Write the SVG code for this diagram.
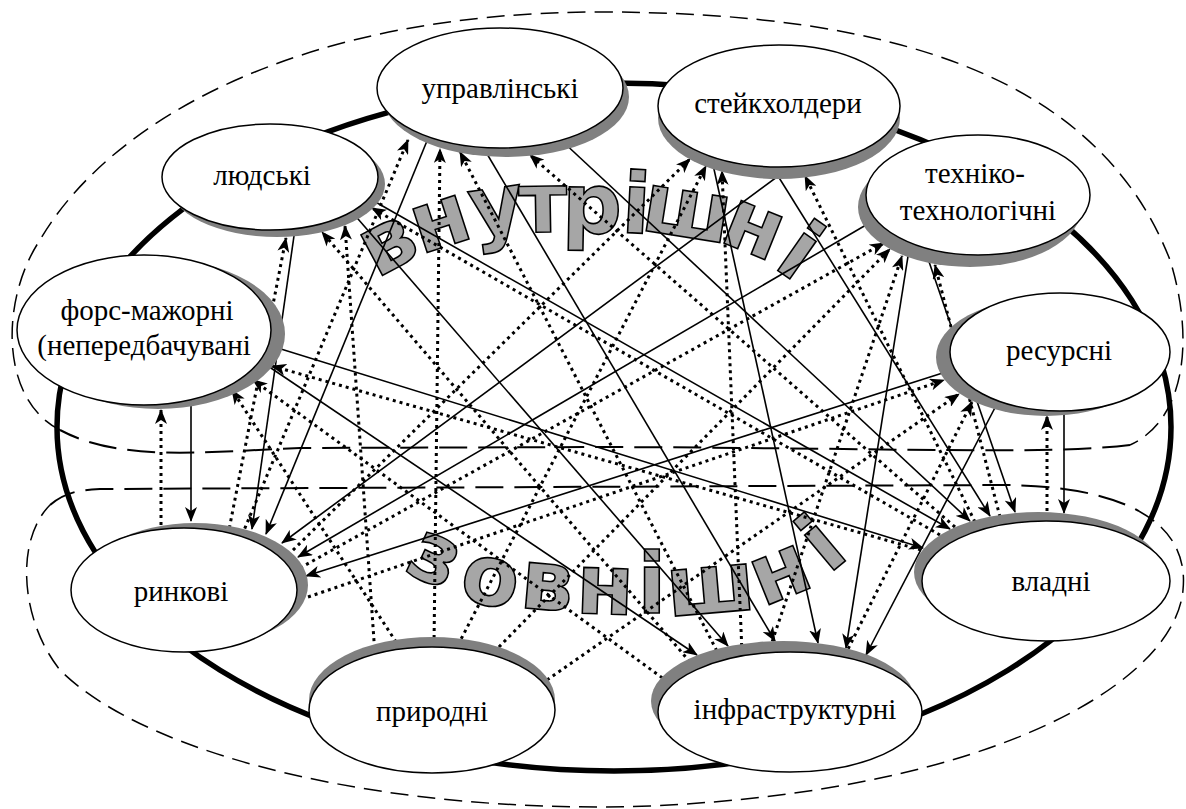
<svg xmlns="http://www.w3.org/2000/svg" width="1186" height="809" viewBox="0 0 1186 809">
<defs>
<marker id="ah" viewBox="0 0 15 12" refX="14" refY="6" markerWidth="15" markerHeight="12" markerUnits="userSpaceOnUse" orient="auto"><path d="M0,0 L15,6 L0,12 L4,6 z" fill="#000"/></marker>
<style>
.dash{fill:none;stroke:#000;stroke-width:1.5;stroke-dasharray:18 9}
.dash2{fill:none;stroke:#000;stroke-width:2;stroke-dasharray:28 11}
.ring{fill:none;stroke:#000;stroke-width:5.5}
.wa{font-family:"DejaVu Sans","Liberation Sans",sans-serif;font-weight:bold;font-size:84px;fill:#a6a6a6;stroke:#000;stroke-width:1.6;text-anchor:middle}
.s{stroke:#000;stroke-width:1.6;fill:none;marker-end:url(#ah)}
.d{stroke:#000;stroke-width:3;stroke-dasharray:3 4;fill:none;marker-end:url(#ah)}
.sh{fill:#808080}
.nd{fill:#fff;stroke:#000;stroke-width:1.5}
.lbl{font-family:"Liberation Serif","DejaVu Serif",serif;font-size:29px;fill:#000;text-anchor:middle}
</style>
</defs>
<rect width="1186" height="809" fill="#fff"/>
<g id="regions">
<path class="dash" d="M60,430 C0,400 0,300 40,240 C110,120 300,12 600,12 C900,12 1100,80 1170,260 C1195,340 1185,420 1130,445"/>
<path class="dash2" d="M1130,445 C1050,455 900,448 600,447 L300,448 C200,452 120,462 60,430"/>
<path class="dash2" d="M50,505 C65,492 80,490 100,489 L1000,485 C1060,485 1107.5,493.75 1139.1,511.25"/>
<path class="dash" d="M1139.1,511.25 C1170.75,528.75 1186.5,555 1183,590 C1175,680 1000,790 650,806 C400,815 150,760 60,670 C20,620 15,540 50,505"/>
<ellipse class="ring" cx="614" cy="427" rx="557" ry="344"/>
</g>
<g id="wordart-internal">
<text class="wa" transform="translate(389,246) rotate(-28)" y="23">в</text>
<text class="wa" transform="translate(441,224) rotate(-18)" y="23">н</text>
<text class="wa" transform="translate(497,211) rotate(-8)" y="23">у</text>
<text class="wa" transform="translate(543,209) rotate(-1)" y="23">т</text>
<text class="wa" transform="translate(592,210) rotate(1)" y="23">р</text>
<text class="wa" transform="translate(636,210) rotate(3)" y="23">і</text>
<text class="wa" transform="translate(687,214) rotate(9)" y="23">ш</text>
<text class="wa" transform="translate(753,230) rotate(22)" y="23">н</text>
<text class="wa" transform="translate(797,256) rotate(35)" y="23">і</text>
</g>
<g id="wordart-external">
<text class="wa" transform="translate(434,560) rotate(25)" y="23">з</text>
<text class="wa" transform="translate(490,582) rotate(12)" y="23">о</text>
<text class="wa" transform="translate(547,587) rotate(5)" y="23">в</text>
<text class="wa" transform="translate(605,591) rotate(2)" y="23">н</text>
<text class="wa" transform="translate(652,590) rotate(0)" y="23">і</text>
<text class="wa" transform="translate(711,590) rotate(-5)" y="23">ш</text>
<text class="wa" transform="translate(781,575) rotate(-22)" y="23">н</text>
<text class="wa" transform="translate(825,548) rotate(-40)" y="23">і</text>
</g>
<g id="connectors">
<line class="s" x1="191" y1="395" x2="191" y2="521"/>
<line class="s" x1="296" y1="222" x2="252" y2="529"/>
<line class="s" x1="429" y1="136" x2="266" y2="534"/>
<line class="s" x1="800" y1="160" x2="282" y2="543"/>
<line class="s" x1="866" y1="225" x2="298" y2="557"/>
<line class="s" x1="952" y1="370" x2="306" y2="576"/>
<line class="s" x1="262" y1="362" x2="697" y2="655"/>
<line class="s" x1="352" y1="212" x2="728" y2="646"/>
<line class="s" x1="480" y1="142" x2="775" y2="641"/>
<line class="s" x1="712" y1="160" x2="818" y2="643"/>
<line class="s" x1="909" y1="250" x2="846" y2="648"/>
<line class="s" x1="999" y1="400" x2="866" y2="655"/>
<line class="s" x1="268" y1="345" x2="923" y2="548"/>
<line class="s" x1="372" y1="200" x2="950" y2="529"/>
<line class="s" x1="561" y1="140" x2="970" y2="521"/>
<line class="s" x1="768" y1="160" x2="990" y2="516"/>
<line class="s" x1="925" y1="250" x2="1015" y2="512"/>
<line class="s" x1="1064" y1="405" x2="1064" y2="513"/>
<line class="d" x1="161" y1="532" x2="161" y2="410"/>
<line class="d" x1="228" y1="535" x2="286" y2="238"/>
<line class="d" x1="242" y1="535" x2="408" y2="140"/>
<line class="d" x1="288" y1="555" x2="690" y2="159"/>
<line class="d" x1="300" y1="568" x2="884" y2="243"/>
<line class="d" x1="308" y1="597" x2="944" y2="380"/>
<line class="d" x1="400" y1="648" x2="232" y2="390"/>
<line class="d" x1="375" y1="655" x2="345" y2="226"/>
<line class="d" x1="434" y1="645" x2="440" y2="149"/>
<line class="d" x1="458" y1="645" x2="706" y2="166"/>
<line class="d" x1="494" y1="652" x2="890" y2="249"/>
<line class="d" x1="547" y1="680" x2="959" y2="394"/>
<line class="d" x1="668" y1="682" x2="253" y2="380"/>
<line class="d" x1="690" y1="662" x2="322" y2="232"/>
<line class="d" x1="720" y1="657" x2="460" y2="152"/>
<line class="d" x1="742" y1="653" x2="722" y2="171"/>
<line class="d" x1="770" y1="648" x2="902" y2="256"/>
<line class="d" x1="845" y1="655" x2="972" y2="402"/>
<line class="d" x1="921" y1="550" x2="272" y2="366"/>
<line class="d" x1="940" y1="535" x2="372" y2="208"/>
<line class="d" x1="955" y1="527" x2="530" y2="155"/>
<line class="d" x1="975" y1="522" x2="805" y2="176"/>
<line class="d" x1="1000" y1="517" x2="935" y2="265"/>
<line class="d" x1="1047" y1="518" x2="1047" y2="416"/>
</g>
<g id="node-forsmazhorni"><ellipse class="sh" cx="158" cy="334" rx="127" ry="75"/><ellipse class="nd" cx="144" cy="330" rx="127" ry="75"/><text class="lbl" x="147" y="320">форс-мажорні</text><text class="lbl" x="144" y="355">(непередбачувані</text></g>
<g id="node-liudski"><ellipse class="sh" cx="277" cy="184" rx="108" ry="53"/><ellipse class="nd" cx="270" cy="177" rx="108" ry="53"/><text class="lbl" x="262" y="185">людські</text></g>
<g id="node-upravlinski"><ellipse class="sh" cx="506" cy="97" rx="123" ry="60"/><ellipse class="nd" cx="500" cy="88" rx="123" ry="60"/><text class="lbl" x="500" y="98">управлінські</text></g>
<g id="node-steikkholdery"><ellipse class="sh" cx="779" cy="118" rx="121" ry="61"/><ellipse class="nd" cx="779" cy="106" rx="121" ry="61"/><text class="lbl" x="778" y="113">стейкхолдери</text></g>
<g id="node-tekhniko"><ellipse class="sh" cx="970" cy="207" rx="112" ry="60"/><ellipse class="nd" cx="978" cy="195" rx="112" ry="60"/><text class="lbl" x="975" y="183">техніко-</text><text class="lbl" x="978" y="220">технологічні</text></g>
<g id="node-resursni"><ellipse class="sh" cx="1046" cy="357" rx="110" ry="59"/><ellipse class="nd" cx="1060" cy="352" rx="110" ry="59"/><text class="lbl" x="1059" y="360">ресурсні</text></g>
<g id="node-rynkovi"><ellipse class="sh" cx="195" cy="585" rx="113" ry="62"/><ellipse class="nd" cx="184" cy="590" rx="113" ry="62"/><text class="lbl" x="181" y="601">ринкові</text></g>
<g id="node-pryrodni"><ellipse class="sh" cx="432" cy="700" rx="123" ry="63"/><ellipse class="nd" cx="432" cy="710" rx="123" ry="63"/><text class="lbl" x="432" y="721">природні</text></g>
<g id="node-infrastrukturni"><ellipse class="sh" cx="783" cy="701" rx="132" ry="60"/><ellipse class="nd" cx="790" cy="712" rx="132" ry="60"/><text class="lbl" x="795" y="719">інфраструктурні</text></g>
<g id="node-vladni"><ellipse class="sh" cx="1038" cy="572" rx="124" ry="60"/><ellipse class="nd" cx="1046" cy="581" rx="124" ry="60"/><text class="lbl" x="1051" y="591">владні</text></g>
</svg>
